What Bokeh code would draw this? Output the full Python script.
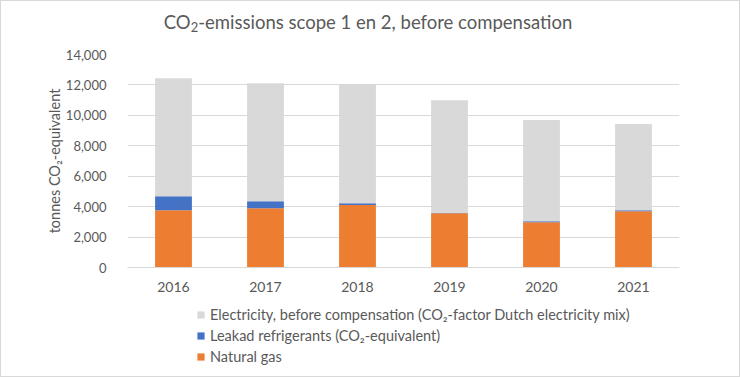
from bokeh.plotting import figure
from bokeh.layouts import column
from bokeh.models import FactorRange, Range1d, Legend, LegendItem, NumeralTickFormatter, FixedTicker, Div
from bokeh.embed import file_html
from bokeh.resources import INLINE

years = ["2016", "2017", "2018", "2019", "2020", "2021"]
natural_gas = [3770, 3900, 4100, 3570, 2980, 3700]
refrigerants = [920, 460, 130, 15, 60, 70]
electricity = [7750, 7750, 7800, 7410, 6650, 5660]
y_ticks = [0, 2000, 4000, 6000, 8000, 10000, 12000, 14000]

series = ["gas", "ref", "elec"]
labels = {
    "elec": "Electricity, before compensation (CO\u2082-factor Dutch electricity mix)",
    "ref": "Leakad refrigerants (CO\u2082-equivalent)",
    "gas": "Natural gas",
}
title_html = "CO<sub style='font-size:70%;vertical-align:-3px'>2</sub>-emissions scope 1 en 2, before compensation"
colors = ["#ED7D31", "#4472C4", "#D9D9D9"]
FONT = "Lato"
TXT = "#595959"

data = dict(years=years, gas=natural_gas, ref=refrigerants, elec=electricity)

title = Div(text=f"<div style='padding-top:11px;line-height:20px;font-family:Lato;font-size:18.5px;"
                 f"color:{TXT};text-align:center;width:734px;white-space:nowrap'>{title_html}</div>",
            width=738, height=40, margin=0)

p = figure(x_range=FactorRange(*years, range_padding=0), y_range=Range1d(0, 14000),
           width=738, height=260, output_backend="svg", toolbar_location=None,
           min_border_left=126, min_border_right=60, min_border_top=13, min_border_bottom=34)

rs = p.vbar_stack(series, x="years", width=0.4, color=colors, source=data, line_width=0)

p.outline_line_color = None
p.xgrid.grid_line_color = None
p.ygrid.grid_line_color = "#D9D9D9"
p.ygrid.grid_line_width = 1

p.yaxis.ticker = FixedTicker(ticks=y_ticks)
p.yaxis.formatter = NumeralTickFormatter(format="0,0")
p.yaxis.axis_line_color = None
p.yaxis.major_tick_line_color = None
p.yaxis.minor_tick_line_color = None
p.yaxis.major_label_standoff = 15
p.yaxis.major_label_text_font = FONT
p.yaxis.major_label_text_font_size = "13px"
p.yaxis.major_label_text_color = TXT
p.yaxis.axis_label = "tonnes CO\u2082-equivalent"
p.yaxis.axis_label_text_font = FONT
p.yaxis.axis_label_text_font_size = "14.5px"
p.yaxis.axis_label_text_font_style = "normal"
p.yaxis.axis_label_text_color = TXT
p.yaxis.axis_label_standoff = 0

p.xaxis.axis_line_color = "#D9D9D9"
p.xaxis.major_tick_line_color = None
p.xaxis.minor_tick_line_color = None
p.xaxis.major_label_standoff = 8
p.xaxis.major_label_text_font = FONT
p.xaxis.major_label_text_font_size = "14px"
p.xaxis.major_label_text_color = TXT

# legend panel below the chart (swatches come from off-range placeholder bars)
p2 = figure(x_range=Range1d(0, 1), y_range=Range1d(0, 1), width=738, height=75,
            output_backend="svg", toolbar_location=None,
            x_axis_location=None, y_axis_location=None,
            min_border_left=126, min_border_right=60, min_border_top=0, min_border_bottom=0)
p2.outline_line_color = None
p2.grid.visible = False
dummy = {s: p2.vbar(x=[-5], top=[-2], bottom=-3, width=0.1, color=c, line_width=0)
         for s, c in zip(series, colors)}

items = [LegendItem(label=labels[s], renderers=[dummy[s]]) for s in ["elec", "ref", "gas"]]
legend = Legend(items=items, location=(69, 9), orientation="vertical",
                padding=0, margin=0, spacing=0, border_line_color=None, background_fill_alpha=0,
                glyph_width=9, glyph_height=9, label_height=21, label_standoff=5,
                label_text_font=FONT, label_text_font_size="14.5px", label_text_color=TXT)
p2.add_layout(legend, "center")

layout = column(title, p, p2, spacing=0, styles={"border": "1px solid #D9D9D9"})

open("out.html", "w").write(file_html(layout, INLINE))
